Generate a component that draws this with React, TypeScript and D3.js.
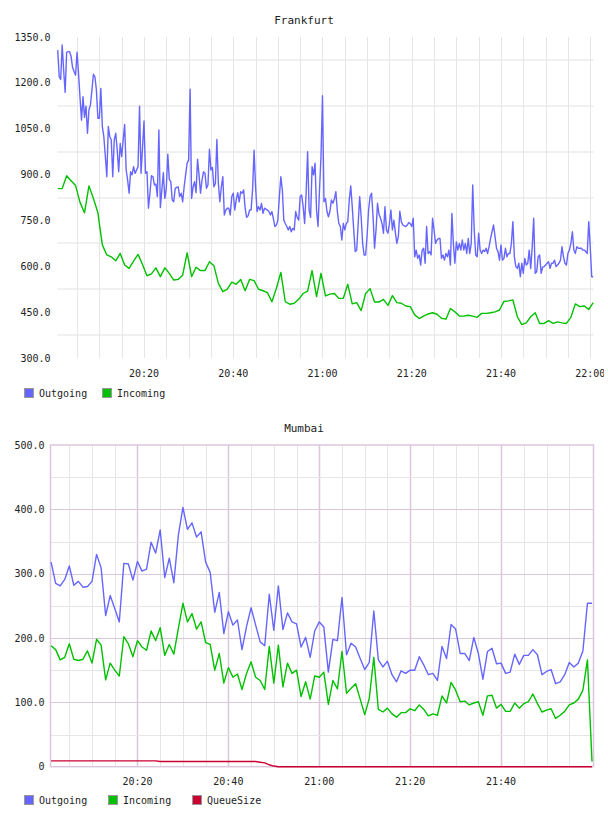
import { useEffect, useRef } from 'react';
import * as d3 from 'd3';

const at = (h: number, m: number, s = 0) => new Date(2024, 0, 1, h, m, s);

// ---- Frankfurt (outgoing sampled every 20 s, incoming every minute) ----
const frankfurtStart = at(20, 0, 40);
const frankfurtOutgoing = [
  1307, 1220, 1211, 1324, 1240, 1169, 1300, 1302, 1302, 1286,
  1250, 1237, 1225, 1300, 1231, 1150, 1078, 1155, 1087, 1124,
  1035, 1111, 1128, 1177, 1228, 1220, 1177, 1084, 1084, 1182,
  1057, 1024, 960, 893, 1057, 1024, 1013, 893, 1013, 1035,
  980, 909, 1002, 959, 1013, 1064, 915, 882, 839, 909,
  899, 926, 904, 915, 926, 1124, 904, 986, 1075, 904,
  909, 790, 839, 896, 893, 866, 869, 828, 1046, 792,
  850, 906, 822, 855, 967, 884, 877, 817, 811, 855,
  858, 860, 828, 839, 811, 860, 900, 937, 948, 1179,
  822, 860, 877, 841, 950, 899, 839, 882, 909, 904,
  855, 866, 983, 915, 923, 860, 871, 1015, 871, 811,
  860, 893, 768, 784, 790, 790, 768, 828, 839, 784,
  817, 841, 811, 844, 839, 850, 790, 760, 765, 784,
  784, 850, 980, 861, 779, 795, 784, 806, 773, 790,
  787, 784, 779, 768, 779, 755, 730, 735, 751, 828,
  893, 850, 751, 740, 730, 719, 730, 713, 724, 719,
  779, 760, 751, 828, 833, 795, 740, 839, 975, 784,
  760, 926, 899, 937, 784, 730, 850, 960, 1158, 811,
  822, 780, 762, 779, 817, 806, 820, 844, 779, 740,
  730, 686, 740, 719, 740, 746, 817, 863, 795, 719,
  648, 653, 740, 828, 762, 675, 637, 637, 700, 784,
  828, 839, 762, 659, 719, 806, 770, 757, 740, 708,
  795, 719, 708, 740, 784, 719, 751, 710, 675, 697,
  780, 746, 735, 732, 730, 735, 743, 740, 730, 757,
  631, 653, 626, 637, 604, 653, 659, 610, 730, 642,
  648, 637, 757, 719, 675, 686, 691, 691, 626, 637,
  620, 642, 631, 653, 604, 773, 675, 610, 680, 653,
  675, 653, 686, 653, 675, 642, 691, 642, 675, 866,
  719, 637, 631, 708, 653, 642, 653, 648, 659, 642,
  664, 691, 713, 735, 697, 659, 648, 620, 670, 620,
  626, 659, 631, 642, 642, 675, 746, 631, 599, 593,
  610, 566, 610, 577, 626, 604, 610, 653, 593, 664,
  757, 577, 582, 631, 637, 577, 597, 599, 604, 610,
  615, 593, 610, 610, 620, 599, 604, 610, 620, 664,
  631, 610, 604, 642, 653, 675, 713, 653, 642, 664,
  659, 659, 659, 653, 653, 648, 642, 746, 664, 566,
  566,
];
const frankfurtIncoming = [
  854, 854, 896, 880, 864, 809, 775, 863, 822, 775,
  670, 637, 631, 618, 642, 604, 593, 617, 639, 606,
  569, 575, 595, 566, 595, 577, 555, 557, 571, 644,
  566, 597, 586, 586, 615, 602, 544, 517, 525, 548,
  541, 557, 520, 557, 553, 525, 520, 514, 484, 528,
  580, 484, 476, 479, 492, 511, 519, 586, 501, 577,
  503, 509, 511, 495, 495, 541, 477, 481, 455, 511,
  527, 483, 483, 492, 472, 504, 481, 479, 470, 468,
  441, 429, 437, 444, 448, 443, 430, 427, 462, 451,
  437, 437, 440, 437, 433, 446, 446, 448, 451, 457,
  485, 487, 490, 435, 409, 415, 435, 448, 413, 413,
  422, 413, 418, 415, 413, 433, 477, 468, 470, 459,
  481,
];
const frankfurtYTicks = [300, 450, 600, 750, 900, 1050, 1200, 1350];
const frankfurtXTicks = ['20:20', '20:40', '21:00', '21:20', '21:40', '22:00'];

// ---- Mumbai (all series sampled every minute) ----
const mumbaiStart = at(20, 1);
const mumbaiOutgoing = [
  318, 285, 281, 291, 312, 282, 288, 279, 280, 288,
  330, 309, 235, 266, 246, 225, 316, 315, 290, 319,
  304, 307, 349, 332, 368, 294, 324, 286, 360, 403,
  369, 379, 357, 365, 318, 302, 240, 271, 207, 241,
  220, 228, 182, 218, 247, 220, 194, 188, 268, 212,
  281, 213, 239, 225, 222, 186, 201, 170, 211, 225,
  217, 147, 198, 196, 263, 174, 192, 186, 168, 151,
  162, 242, 166, 155, 164, 143, 132, 149, 145, 150,
  150, 171, 158, 143, 145, 134, 187, 168, 221, 214,
  176, 176, 165, 201, 176, 136, 179, 184, 160, 161,
  145, 147, 175, 159, 173, 173, 182, 174, 143, 148,
  151, 129, 132, 143, 162, 155, 161, 180, 254, 254,
];
const mumbaiIncoming = [
  188, 182, 166, 170, 191, 167, 165, 167, 180, 161,
  198, 189, 135, 161, 150, 141, 202, 191, 171, 196,
  186, 181, 211, 196, 216, 173, 190, 175, 215, 254,
  225, 238, 214, 225, 193, 190, 150, 176, 130, 154,
  139, 144, 120, 145, 163, 139, 134, 120, 187, 130,
  189, 124, 161, 145, 150, 109, 132, 105, 141, 139,
  147, 97, 134, 121, 179, 114, 122, 129, 105, 81,
  106, 170, 89, 85, 91, 82, 77, 84, 84, 90,
  87, 96, 89, 79, 82, 80, 110, 99, 131, 119,
  101, 102, 96, 99, 101, 80, 110, 111, 91, 97,
  86, 86, 99, 91, 98, 101, 113, 98, 85, 88,
  90, 75, 80, 86, 96, 99, 105, 119, 166, 8,
];
const mumbaiQueueSize = [
  9, 9, 9, 9, 9, 9, 9, 9, 9, 9,
  9, 9, 9, 9, 9, 9, 9, 9, 9, 9,
  9, 9, 9, 9, 8, 8, 8, 8, 8, 8,
  8, 8, 8, 8, 8, 8, 8, 8, 8, 8,
  8, 8, 8, 8, 8, 8, 7, 6, 3, 1,
  0, 0, 0, 0, 0, 0, 0, 0, 0, 0,
  0, 0, 0, 0, 0, 0, 0, 0, 0, 0,
  0, 0, 0, 0, 0, 0, 0, 0, 0, 0,
  0, 0, 0, 0, 0, 0, 0, 0, 0, 0,
  0, 0, 0, 0, 0, 0, 0, 0, 0, 0,
  0, 0, 0, 0, 0, 0, 0, 0, 0, 0,
  0, 0, 0, 0, 0, 0, 0, 0, 0, 0,
];
const mumbaiYTicks = [0, 100, 200, 300, 400, 500];
const mumbaiXTicks = ['20:20', '20:40', '21:00', '21:20', '21:40'];

const BLUE = '#6666ff';
const GREEN = '#00c000';
const RED = '#cc0033';
const FONT = '"DejaVu Sans Mono", monospace';
const TEXT = '#222';

type Point = { t: Date; v: number };

const toSeries = (values: number[], start: Date, stepSec: number): Point[] =>
  values.map((v, i) => ({ t: new Date(start.getTime() + i * stepSec * 1000), v }));

const hhmm = (s: string) => {
  const [h, m] = s.split(':').map(Number);
  return at(h, m);
};

type Sel = d3.Selection<SVGSVGElement, unknown, null, undefined>;
type Group = d3.Selection<SVGGElement, unknown, null, undefined>;

function drawLegend(g: Group, y: number, items: { label: string; color: string; x: number }[]) {
  items.forEach(item => {
    g.append('rect')
      .attr('x', item.x + 0.5)
      .attr('y', y + 0.5)
      .attr('width', 9)
      .attr('height', 9)
      .attr('fill', item.color)
      .attr('stroke', '#999')
      .attr('stroke-width', 1);
    g.append('text')
      .attr('x', item.x + 15)
      .attr('y', y + 8.5)
      .style('font-family', FONT)
      .style('font-size', '10px')
      .style('fill', TEXT)
      .text(item.label);
  });
}

function drawFrankfurt(svg: Sel) {
  const left = 57.5, right = 593.5, top = 37, bottom = 358;
  const x = d3.scaleTime().domain([at(20, 0, 37), at(22, 0, 44)]).range([left, right]);
  const y = d3.scaleLinear().domain([300, 1350]).range([bottom, top]);
  const g = svg.append('g');

  g.append('text')
    .attr('x', 304)
    .attr('y', 24)
    .attr('text-anchor', 'middle')
    .style('font-family', FONT)
    .style('font-size', '11px')
    .style('fill', TEXT)
    .text('Frankfurt');

  // wide horizontal bands sit half way between the labelled values
  g.selectAll('.hgrid')
    .data(d3.range(375, 1350, 150))
    .enter()
    .append('line')
    .attr('x1', left)
    .attr('x2', right)
    .attr('y1', d => Math.round(y(d)))
    .attr('y2', d => Math.round(y(d)))
    .attr('stroke', '#f0f0f0')
    .attr('stroke-width', 2);

  g.selectAll('.vgrid')
    .data(d3.timeMinute.every(5)!.range(at(20, 5), at(22, 0, 1)))
    .enter()
    .append('line')
    .attr('x1', d => Math.round(x(d)) + 0.5)
    .attr('x2', d => Math.round(x(d)) + 0.5)
    .attr('y1', top)
    .attr('y2', bottom)
    .attr('stroke', '#e6e6e6')
    .attr('stroke-width', 1);

  g.selectAll('.ylabel')
    .data(frankfurtYTicks)
    .enter()
    .append('text')
    .attr('x', 50.5)
    .attr('y', d => y(d))
    .attr('dy', '0.35em')
    .attr('text-anchor', 'end')
    .style('font-family', FONT)
    .style('font-size', '10px')
    .style('fill', TEXT)
    .text(d => d.toFixed(1));

  g.selectAll('.xlabel')
    .data(frankfurtXTicks)
    .enter()
    .append('text')
    .attr('x', d => x(hhmm(d)))
    .attr('y', 377)
    .attr('text-anchor', 'middle')
    .style('font-family', FONT)
    .style('font-size', '10px')
    .style('fill', TEXT)
    .text(d => d);

  const line = d3.line<Point>().x(d => x(d.t)).y(d => y(d.v));

  g.append('path')
    .datum(toSeries(frankfurtIncoming, frankfurtStart, 60))
    .attr('d', line)
    .attr('fill', 'none')
    .attr('stroke', GREEN)
    .attr('stroke-width', 1.4)
    .attr('stroke-linejoin', 'round');

  g.append('path')
    .datum(toSeries(frankfurtOutgoing, frankfurtStart, 20))
    .attr('d', line)
    .attr('fill', 'none')
    .attr('stroke', BLUE)
    .attr('stroke-width', 1.4)
    .attr('stroke-linejoin', 'round');

  drawLegend(g, 388, [
    { label: 'Outgoing', color: BLUE, x: 24 },
    { label: 'Incoming', color: GREEN, x: 102 },
  ]);
}

function drawMumbai(svg: Sel) {
  const left = 50.5, right = 593.5, top = 445, bottom = 766.7;
  const x = d3.scaleTime().domain([at(20, 0, 52), at(22, 0, 20)]).range([left, right]);
  const y = d3.scaleLinear().domain([0, 500]).range([bottom, top]);
  const g = svg.append('g');
  const major = '#dcc6dc';
  const minor = '#e6e6e6';

  g.append('text')
    .attr('x', 304)
    .attr('y', 432)
    .attr('text-anchor', 'middle')
    .style('font-family', FONT)
    .style('font-size', '11px')
    .style('fill', TEXT)
    .text('Mumbai');

  const fives = d3.timeMinute.every(5)!.range(at(20, 5), at(22, 0));
  g.selectAll('.vgrid')
    .data(fives)
    .enter()
    .append('line')
    .attr('x1', d => Math.round(x(d)) + 0.5)
    .attr('x2', d => Math.round(x(d)) + 0.5)
    .attr('y1', top)
    .attr('y2', bottom)
    .attr('stroke', d => (d.getMinutes() % 20 === 0 ? major : minor))
    .attr('stroke-width', d => (d.getMinutes() % 20 === 0 ? 1.5 : 1));

  g.selectAll('.hgrid')
    .data(d3.range(50, 500, 50))
    .enter()
    .append('line')
    .attr('x1', left)
    .attr('x2', right)
    .attr('y1', d => Math.round(y(d)) + 0.5)
    .attr('y2', d => Math.round(y(d)) + 0.5)
    .attr('stroke', d => (d % 100 === 0 ? major : minor))
    .attr('stroke-width', 1);

  g.append('rect')
    .attr('x', left)
    .attr('y', top)
    .attr('width', right - left)
    .attr('height', bottom - top)
    .attr('fill', 'none')
    .attr('stroke', major)
    .attr('stroke-width', 1.5);

  g.selectAll('.ylabel')
    .data(mumbaiYTicks)
    .enter()
    .append('text')
    .attr('x', 44.5)
    .attr('y', d => y(d))
    .attr('dy', '0.35em')
    .attr('text-anchor', 'end')
    .style('font-family', FONT)
    .style('font-size', '10px')
    .style('fill', TEXT)
    .text(d => (d === 0 ? '0' : d.toFixed(1)));

  g.selectAll('.xlabel')
    .data(mumbaiXTicks)
    .enter()
    .append('text')
    .attr('x', d => x(hhmm(d)))
    .attr('y', 785)
    .attr('text-anchor', 'middle')
    .style('font-family', FONT)
    .style('font-size', '10px')
    .style('fill', TEXT)
    .text(d => d);

  const line = d3.line<Point>().x(d => x(d.t)).y(d => y(d.v));
  const series = [
    { values: mumbaiQueueSize, color: RED },
    { values: mumbaiIncoming, color: GREEN },
    { values: mumbaiOutgoing, color: BLUE },
  ];
  series.forEach(s => {
    g.append('path')
      .datum(toSeries(s.values, mumbaiStart, 60))
      .attr('d', line)
      .attr('fill', 'none')
      .attr('stroke', s.color)
      .attr('stroke-width', 1.4)
      .attr('stroke-linejoin', 'round');
  });

  drawLegend(g, 795, [
    { label: 'Outgoing', color: BLUE, x: 24 },
    { label: 'Incoming', color: GREEN, x: 108 },
    { label: 'QueueSize', color: RED, x: 192 },
  ]);
}

export default function App() {
  const svgRef = useRef<SVGSVGElement>(null);

  useEffect(() => {
    const svg = d3.select(svgRef.current!) as Sel;
    svg.selectAll('*').remove();
    drawFrankfurt(svg);
    drawMumbai(svg);
  }, []);

  return (
    <div style={{ position: 'absolute', left: 0, top: 0 }}>
      <svg ref={svgRef} width={604} height={816} style={{ display: 'block', background: '#fff' }} />
    </div>
  );
}
